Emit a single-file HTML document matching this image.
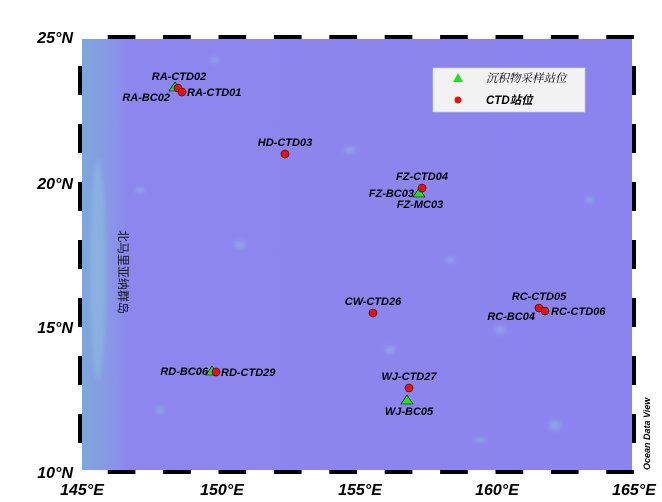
<!DOCTYPE html>
<html><head><meta charset="utf-8"><style>
body{margin:0;background:#fff;width:662px;height:502px;overflow:hidden}
svg{display:block}
.l{font-family:"Liberation Sans","Noto Sans CJK SC",sans-serif;font-weight:bold;font-style:italic;font-size:11px;fill:#000}
.ax{font-family:"Liberation Sans",sans-serif;font-weight:bold;font-style:italic;font-size:16px;fill:#000}
</style></head><body>
<svg width="662" height="502" viewBox="0 0 662 502">
<defs>
<linearGradient id="lg" x1="0" x2="1" y1="0" y2="0">
<stop offset="0" stop-color="#7ea8da"/><stop offset="0.05" stop-color="#8898e6"/><stop offset="0.09" stop-color="#8c86ee"/><stop offset="1" stop-color="#8c84ee"/>
</linearGradient>
<filter id="bl"><feGaussianBlur stdDeviation="2"/></filter>
</defs>
<rect x="80" y="37" width="554" height="435" fill="url(#lg)"/>
<g filter="url(#bl)" fill="#8fc0e0" opacity="0.55">
<ellipse cx="98" cy="270" rx="8" ry="110"/>
<ellipse cx="240" cy="245" rx="6" ry="4"/><ellipse cx="350" cy="150" rx="6" ry="3"/>
<ellipse cx="215" cy="60" rx="5" ry="3"/><ellipse cx="555" cy="425" rx="6" ry="5"/>
<ellipse cx="390" cy="350" rx="5" ry="4"/><ellipse cx="500" cy="330" rx="5" ry="4"/>
<ellipse cx="450" cy="260" rx="5" ry="3"/><ellipse cx="590" cy="200" rx="4" ry="3"/>
<ellipse cx="160" cy="410" rx="5" ry="4"/><ellipse cx="480" cy="440" rx="5" ry="3"/>
<ellipse cx="140" cy="190" rx="5" ry="3"/>
</g>
<g fill="none" stroke-width="4">
<rect x="80" y="37" width="554" height="435" stroke="#fff"/>
<path d="M107.7 37H135.4M163.1 37H190.8M218.5 37H246.2M273.9 37H301.6M329.3 37H357M384.7 37H412.4M440.1 37H467.8M495.5 37H523.2M550.9 37H578.6M606.3 37H634" stroke="#000"/>
<path d="M107.7 472H135.4M163.1 472H190.8M218.5 472H246.2M273.9 472H301.6M329.3 472H357M384.7 472H412.4M440.1 472H467.8M495.5 472H523.2M550.9 472H578.6M606.3 472H634" stroke="#000"/>
<path d="M80 443V414M80 385V356M80 327V298M80 269V240M80 211V182M80 153V124M80 95V66" stroke="#000"/>
<path d="M634 443V414M634 385V356M634 327V298M634 269V240M634 211V182M634 153V124M634 95V66" stroke="#000"/>
</g>
<g class="ax" text-anchor="end">
<text x="73" y="43">25°N</text><text x="73" y="189">20°N</text><text x="73" y="333">15°N</text><text x="73" y="478">10°N</text>
</g>
<g class="ax" text-anchor="middle">
<text x="82" y="495">145°E</text><text x="222" y="495">150°E</text><text x="360" y="495">155°E</text><text x="497" y="495">160°E</text><text x="634" y="495">165°E</text>
</g>
<text x="0" y="0" transform="translate(119,230) rotate(90)" style="font-family:'Noto Sans CJK SC',sans-serif;font-size:12px;fill:#111">北马里亚纳群岛</text>
<text transform="translate(650,470) rotate(-90)" class="l" style="font-size:9px">Ocean Data View</text>
<g stroke="#000" stroke-width="0.6">
<polygon points="175,82 169,91 181,91" fill="#22e022"/>
<circle cx="178" cy="88" r="4" fill="#e81010"/><circle cx="182" cy="92" r="4" fill="#e81010"/>
<circle cx="285" cy="154" r="4" fill="#e81010"/>
<polygon points="419,188 413,197 425,197" fill="#22e022"/>
<circle cx="422" cy="188" r="4" fill="#e81010"/>
<circle cx="373" cy="313" r="4" fill="#e81010"/>
<circle cx="539" cy="308" r="4" fill="#e81010"/><circle cx="545" cy="311" r="4" fill="#e81010"/>
<polygon points="212,366 206,375 218,375" fill="#22e022"/>
<circle cx="216" cy="372" r="4" fill="#e81010"/>
<circle cx="409" cy="388" r="4" fill="#e81010"/>
<polygon points="407,395 401,404 413,404" fill="#22e022"/>
</g>
<g class="l">
<text x="179" y="80" text-anchor="middle">RA-CTD02</text>
<text x="170" y="101" text-anchor="end">RA-BC02</text>
<text x="187" y="96">RA-CTD01</text>
<text x="285" y="146" text-anchor="middle">HD-CTD03</text>
<text x="422" y="180" text-anchor="middle">FZ-CTD04</text>
<text x="414" y="197" text-anchor="end">FZ-BC03</text>
<text x="420" y="208" text-anchor="middle">FZ-MC03</text>
<text x="373" y="305" text-anchor="middle">CW-CTD26</text>
<text x="539" y="300" text-anchor="middle">RC-CTD05</text>
<text x="551" y="315">RC-CTD06</text>
<text x="535" y="320" text-anchor="end">RC-BC04</text>
<text x="208" y="375" text-anchor="end">RD-BC06</text>
<text x="221" y="376">RD-CTD29</text>
<text x="409" y="380" text-anchor="middle">WJ-CTD27</text>
<text x="409" y="415" text-anchor="middle">WJ-BC05</text>
</g>
<rect x="433" y="68" width="152" height="44" fill="#f2f2f2" stroke="#ccc" stroke-width="0.7"/>
<polygon points="458,73 453,82 463,82" fill="#22e022"/>
<circle cx="458" cy="100" r="3.5" fill="#e81010"/>
<text x="486" y="82" style="font-family:'Noto Serif CJK SC','Noto Sans CJK SC',serif;font-style:italic;font-size:11.5px">沉积物采样站位</text>
<text x="486" y="104" class="l" style="font-size:11.5px">CTD站位</text>
</svg>
</body></html>
